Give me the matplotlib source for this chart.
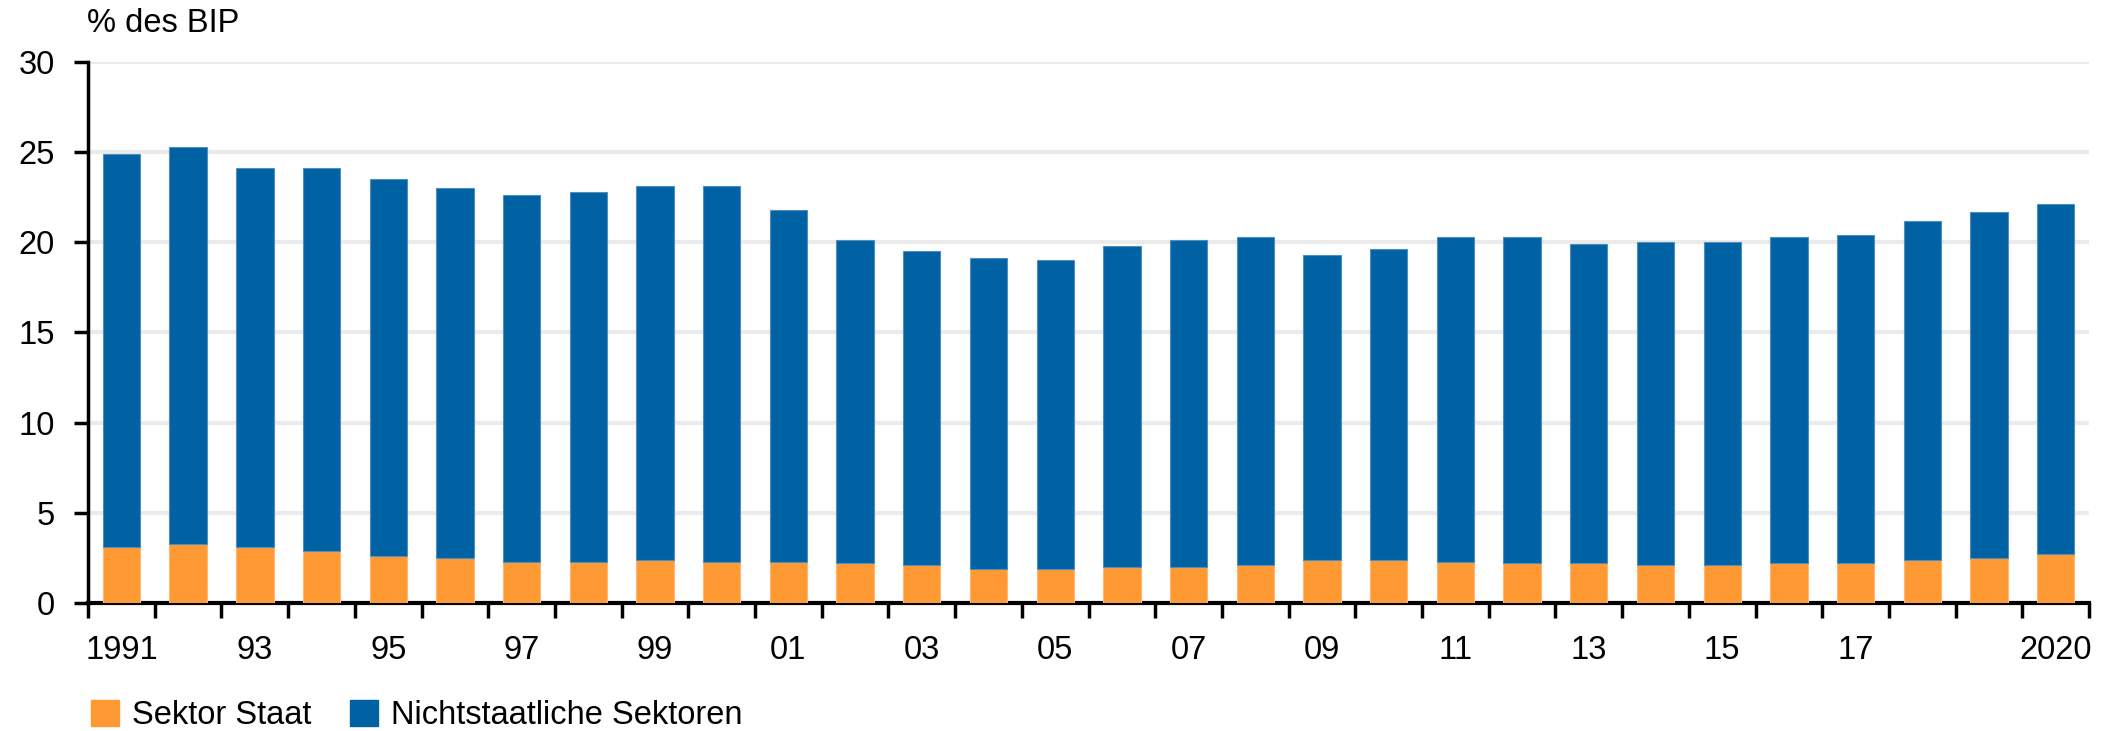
import numpy as np
import matplotlib.pyplot as plt
from matplotlib.patches import Patch

plt.rcParams['font.family'] = ['Liberation Sans', 'DejaVu Sans']

# Daten (% des BIP)
jahre = list(range(1991, 2021))
gesamt = [24.9, 25.3, 24.1, 24.1, 23.5, 23.0, 22.6, 22.8, 23.1, 23.1,
          21.8, 20.1, 19.5, 19.1, 19.0, 19.8, 20.1, 20.3, 19.3, 19.6,
          20.3, 20.3, 19.9, 20.0, 20.0, 20.3, 20.4, 21.2, 21.7, 22.1]
staat = [3.1, 3.3, 3.1, 2.9, 2.6, 2.5, 2.3, 2.3, 2.4, 2.3,
         2.3, 2.2, 2.1, 1.9, 1.9, 2.0, 2.0, 2.1, 2.4, 2.4,
         2.3, 2.2, 2.2, 2.1, 2.1, 2.2, 2.2, 2.4, 2.5, 2.7]
nichtstaat = [g - s for g, s in zip(gesamt, staat)]
labels_pos = [0, 2, 4, 6, 8, 10, 12, 14, 16, 18, 20, 22, 24, 26, 29]
labels_txt = ['1991', '93', '95', '97', '99', '01', '03', '05', '07', '09',
              '11', '13', '15', '17', '2020']

orange = '#FF9933'
blau = '#0062A3'
fs = 23.5

fig = plt.figure(figsize=(21.23, 7.31), dpi=100)
ax = fig.add_axes([0.0415, 0.175, 0.9425, 0.7405])

x = np.arange(len(jahre))
ax.bar(x, staat, width=0.56, color=orange, edgecolor='#FFB873', linewidth=0.8, zorder=3)
ax.bar(x, nichtstaat, bottom=staat, width=0.56, color=blau, edgecolor='#4F8FC0', linewidth=0.8, zorder=3)

ax.set_xlim(-0.5, len(jahre) - 0.5)
ax.set_ylim(0, 30)
ax.set_yticks([0, 5, 10, 15, 20, 25, 30])
ax.yaxis.grid(True, color='#ebebeb', linewidth=3, zorder=0)

# Striche zwischen den Balken, Beschriftung unter den Balken
ax.set_xticks(np.arange(-0.5, len(jahre), 1.0))
ax.set_xticklabels([])
ax.set_xticks(labels_pos, minor=True)
ax.set_xticklabels(labels_txt, minor=True)
ax.tick_params(axis='x', which='major', length=11, width=2.5, direction='out')
ax.tick_params(axis='x', which='minor', length=0, labelsize=fs, pad=23)
ax.tick_params(axis='y', length=10, width=2.5, labelsize=fs, pad=14)

for s in ['top', 'right']:
    ax.spines[s].set_visible(False)
ax.spines['left'].set_linewidth(2.5)
ax.spines['bottom'].set_linewidth(3)

fig.text(0.041, 0.968, '% des BIP', fontsize=fs, va='center', ha='left')

handles = [Patch(color=orange, label='Sektor Staat'),
           Patch(color=blau, label='Nichtstaatliche Sektoren')]
fig.legend(handles=handles, loc='lower left', bbox_to_anchor=(0.029, -0.04), ncol=2,
           frameon=False, fontsize=fs, handlelength=0.85, handleheight=0.85,
           handletextpad=0.4, columnspacing=1.2)

fig.savefig('out.png', dpi=100)
